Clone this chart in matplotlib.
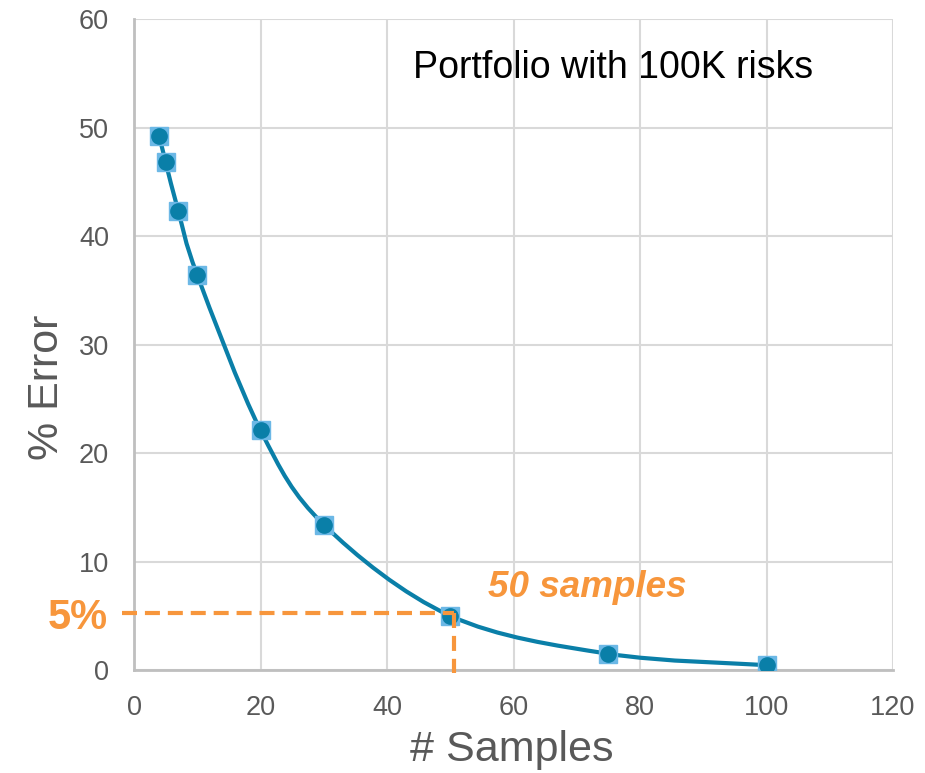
import numpy as np
import matplotlib
matplotlib.use('Agg')
import matplotlib.pyplot as plt
from matplotlib.path import Path
from matplotlib.patches import PathPatch

plt.rcParams['font.family'] = ['Liberation Sans', 'DejaVu Sans']

# Dados
samples = [4, 5, 7, 10, 20, 30, 50, 75, 100]
error = [49.2, 46.8, 42.3, 36.4, 22.1, 13.4, 5.0, 1.5, 0.45]
x_ticks = [0, 20, 40, 60, 80, 100, 120]
y_ticks = [0, 10, 20, 30, 40, 50, 60]
marca_x = 50.6
marca_y = 5.3

azul = '#0A7FA8'
azul_claro = '#6CB8E6'
laranja = '#F7963C'
cinza = '#595959'

fig = plt.figure(figsize=(9.25, 7.73), dpi=100)
ax = fig.add_axes([0.1449, 0.1332, 0.8205, 0.8422])

# Curva suavizada (Bezier tipo Excel)
pts = np.array([samples, error], dtype=float).T
verts = [pts[0]]
codes = [Path.MOVETO]
n = len(pts)
for i in range(n - 1):
    p0 = pts[i - 1] if i > 0 else pts[i]
    p1 = pts[i]
    p2 = pts[i + 1]
    p3 = pts[i + 2] if i + 2 < n else pts[i + 1]
    c1 = p1 + (p2 - p0) / 6.0
    c2 = p2 - (p3 - p1) / 6.0
    verts += [c1, c2, p2]
    codes += [Path.CURVE4] * 3
ax.add_patch(PathPatch(Path(verts, codes), facecolor='none', edgecolor=azul, lw=3, zorder=3))

ax.plot(samples, error, ls='none', marker='s', ms=12.5, color=azul_claro, mec=azul_claro, zorder=4)
ax.plot(samples, error, ls='none', marker='o', ms=11, color=azul, mec=azul, zorder=5)

# Linhas tracejadas em laranja
ax.plot([-1.9, marca_x], [marca_y, marca_y], color=laranja, lw=3, ls=(0, (3.6, 1.9)), clip_on=False, zorder=6)
ax.plot([marca_x, marca_x], [marca_y, -0.3], color=laranja, lw=3, ls=(0, (3.6, 1.9)), clip_on=False, zorder=6)

ax.set_xlim(0, 120)
ax.set_ylim(0, 60)
ax.set_xticks(x_ticks)
ax.set_yticks(y_ticks)
ax.tick_params(length=0, labelsize=19.5, colors=cinza, pad=18)
ax.grid(True, color='#D9D9D9', lw=1.5)
ax.set_axisbelow(True)
for s in ['top', 'right']:
    ax.spines[s].set_visible(False)
for s in ['left', 'bottom']:
    ax.spines[s].set_color('#BFBFBF')
    ax.spines[s].set_linewidth(2)

fig.text(512 / 925, 1 - 750 / 773, '# Samples', fontsize=31, color=cinza, ha='center', va='center')
fig.text(47 / 925, 1 - 387 / 773, '% Error', fontsize=31, color=cinza, ha='center', va='center', rotation=90)

ax.text(44.1, 55.5, 'Portfolio with 100K risks', fontsize=27, color='black', va='center')
ax.text(56, 7.6, '50 samples', fontsize=26.5, color=laranja, fontweight='bold', fontstyle='italic', va='center')
fig.text(0.117, 1 - 618 / 773, '5%', fontsize=30, color=laranja, fontweight='bold', ha='right', va='center')

plt.savefig('out.png', dpi=100)
